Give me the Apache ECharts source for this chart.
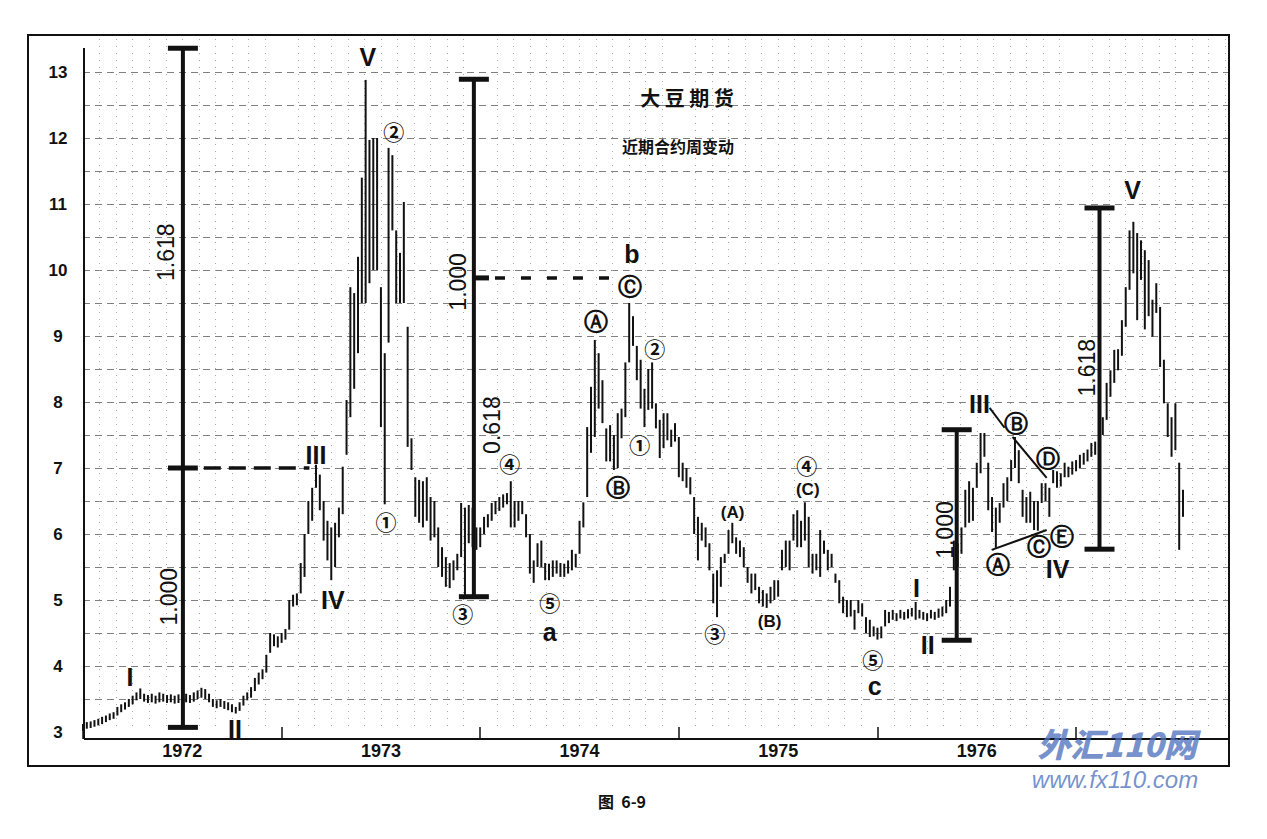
<!DOCTYPE html>
<html><head><meta charset="utf-8">
<script src="https://cdn.jsdelivr.net/npm/echarts@6/dist/echarts.min.js"></script>
<style>html,body{margin:0;padding:0;background:#fff}#c{width:1267px;height:839px}</style>
</head><body><div id="c"></div>
<script>
// ---------------- DATA ----------------
const startYear = 1972;
const weeksPerYear = 52;
const weekLow = [
3.02,3.05,3.06,3.08,3.10,3.12,3.15,3.18,3.20,3.25,
3.30,3.34,3.38,3.42,3.48,3.50,3.46,3.44,3.45,3.43,
3.45,3.46,3.44,3.45,3.43,3.44,3.42,3.45,3.44,3.46,
3.50,3.52,3.50,3.45,3.38,3.36,3.38,3.35,3.33,3.30,
3.28,3.32,3.40,3.48,3.52,3.62,3.72,3.80,3.90,4.20,
4.30,4.28,4.35,4.40,4.55,4.90,4.92,5.10,5.35,6.00,
6.20,6.70,6.36,5.90,5.60,5.30,5.50,5.95,6.30,7.20,
7.77,8.20,8.74,9.50,9.50,9.80,10.0,10.0,7.62,6.45,
8.90,10.6,9.50,9.50,9.50,7.32,6.97,6.26,6.17,6.10,
6.20,5.90,5.95,5.50,5.35,5.20,5.18,5.30,5.45,5.65,
5.05,5.86,5.80,5.76,5.80,6.00,6.10,6.20,6.30,6.35,
6.40,6.45,6.10,6.10,6.20,6.30,5.95,5.40,5.26,5.50,
5.50,5.30,5.30,5.35,5.40,5.35,5.35,5.40,5.45,5.50,
5.70,6.10,6.56,7.23,7.47,7.90,7.68,7.10,7.10,6.97,
7.00,7.45,7.77,8.60,8.85,8.33,7.90,7.62,7.88,7.90,
7.60,7.15,7.30,7.42,7.32,7.40,6.86,6.80,6.70,6.60,
6.00,5.60,5.90,5.80,5.45,4.95,4.74,5.20,5.56,5.70,
5.86,5.70,5.65,5.50,5.26,5.10,5.15,4.95,4.90,4.88,
4.95,5.00,5.05,5.45,5.50,5.45,5.90,5.80,5.80,5.90,
5.50,5.40,5.45,5.35,5.70,5.45,5.50,5.26,4.95,4.80,
4.74,4.75,4.55,4.80,4.75,4.50,4.44,4.45,4.40,4.42,
4.60,4.65,4.70,4.68,4.72,4.70,4.72,4.75,4.70,4.72,
4.70,4.68,4.72,4.70,4.73,4.75,4.80,4.90,5.45,5.50,
5.70,6.10,6.17,6.20,6.70,6.92,7.17,6.36,6.03,5.79,
6.17,6.40,6.50,6.80,7.00,6.77,6.26,6.17,6.17,6.06,
6.05,6.47,6.50,6.26,6.77,6.70,6.72,6.86,6.86,6.90,
6.95,7.00,7.05,7.10,7.17,7.20,7.42,7.50,7.73,8.08,
8.29,8.48,8.70,9.14,9.70,9.95,9.24,9.85,9.10,9.30,
8.99,9.35,8.53,7.98,7.47,7.17,7.27,5.76,6.26
];
const weekHigh = [
3.12,3.15,3.16,3.18,3.20,3.23,3.25,3.28,3.30,3.38,
3.42,3.45,3.50,3.55,3.60,3.66,3.58,3.56,3.58,3.55,
3.60,3.58,3.56,3.57,3.55,3.57,3.55,3.58,3.56,3.60,
3.63,3.67,3.65,3.58,3.50,3.48,3.50,3.47,3.45,3.42,
3.38,3.45,3.55,3.60,3.68,3.82,3.90,3.95,4.17,4.50,
4.48,4.45,4.50,4.56,5.00,5.08,5.10,5.56,6.00,6.50,
6.70,7.05,6.90,6.50,6.20,6.10,6.17,6.40,7.02,8.03,
9.74,9.65,10.2,11.4,12.88,11.97,12.0,12.0,9.74,8.74,
11.85,11.74,10.6,10.26,11.03,9.14,7.45,6.86,6.82,6.80,
6.86,6.56,6.50,6.10,5.80,5.65,5.56,5.60,5.70,6.47,
6.40,6.44,6.40,6.10,6.10,6.26,6.30,6.47,6.50,6.56,
6.60,6.62,6.80,6.50,6.50,6.50,6.30,6.00,5.60,5.86,
5.90,5.56,5.55,5.60,5.60,5.56,5.55,5.60,5.76,5.70,
6.20,6.48,7.62,8.23,8.94,8.74,8.33,7.60,7.65,7.50,
7.83,7.90,8.60,9.50,9.30,8.85,8.64,8.20,8.50,8.60,
7.98,7.73,7.83,7.83,7.58,7.68,7.47,7.08,7.00,6.86,
6.56,6.26,6.17,6.10,5.86,5.40,5.45,5.65,5.70,6.06,
6.17,5.95,5.90,5.80,5.50,5.40,5.40,5.20,5.15,5.10,
5.20,5.30,5.30,5.76,5.90,5.90,6.30,6.36,6.20,6.48,
6.26,5.70,5.70,6.06,5.90,5.76,5.70,5.40,5.30,5.05,
5.00,5.00,4.85,5.00,4.95,4.74,4.70,4.60,4.58,4.60,
4.85,4.82,4.85,4.80,4.85,4.82,4.86,4.88,4.97,4.85,
4.82,4.80,4.85,4.82,4.87,4.90,5.00,5.20,5.90,5.86,
6.10,6.67,6.80,6.70,7.08,7.53,7.53,7.08,6.56,6.40,
6.47,6.77,6.86,7.12,7.47,7.27,6.67,6.56,6.64,6.50,
6.50,6.77,6.77,6.70,6.97,6.95,6.92,7.08,7.02,7.10,
7.12,7.20,7.23,7.28,7.38,7.40,7.68,7.77,8.29,8.48,
8.79,8.80,9.24,9.74,10.6,10.73,10.56,10.45,10.30,10.15,
9.55,9.80,9.44,8.64,7.98,7.77,7.98,7.08,6.67
];
const yearLabels = ['1972','1973','1974','1975','1976'];
const priceTicks = [3,4,5,6,7,8,9,10,11,12,13];

// Elliott-wave labels
const waveText  = ['I','II','III','IV','V','①','②','③','④','⑤','a','Ⓐ','Ⓑ','Ⓒ','b','①','②','③','(A)','(B)','④','(C)','⑤','c','I','II','III','Ⓑ','Ⓓ','Ⓐ','Ⓒ','Ⓔ','IV','V'];
const waveYear  = [1972.237,1972.765,1973.173,1973.258,1973.434,1973.525,1973.565,1973.912,1974.149,1974.35,1974.35,1974.582,1974.693,1974.753,1974.763,1974.803,1974.879,1975.181,1975.271,1975.457,1975.644,1975.649,1975.976,1975.986,1976.197,1976.253,1976.514,1976.70,1976.857,1976.605,1976.811,1976.927,1976.907,1977.284];
const waveValue = [3.83,3.04,7.2,5.0,13.23,6.2,12.1,4.8,7.08,4.97,4.52,9.21,6.7,9.74,10.24,7.36,8.82,4.5,6.33,4.68,7.05,6.67,4.11,3.7,5.18,4.32,7.97,7.67,7.14,5.53,5.8,5.95,5.47,11.21];

// Fibonacci ratio labels
const ratioText  = ['1.618','1.000','1.000','0.618','1.000','1.618'];
const ratioYear  = [1972.418,1972.433,1973.887,1974.058,1976.338,1977.053];
const ratioValue = [10.27,5.05,9.82,7.65,6.06,8.52];

// Fibonacci measuring bars
const fibYear = [1972.503,1973.968,1976.399,1977.118];
const fibLow  = [3.07,5.05,4.39,5.77];
const fibHigh = [13.36,12.89,7.58,10.94];

// horizontal projection levels
const levelValue    = [7.0, 9.88];
const levelStart    = [1972.428, 1973.968];
const levelSolidEnd = [1972.578, 1974.044];
const levelEnd      = [1973.14, 1974.703];

// triangle trend lines (1976)
const trendYear1  = [1976.565,1976.68,1976.575];
const trendValue1 = [7.91,7.47,5.76];
const trendYear2  = [1976.64,1976.852,1976.852];
const trendValue2 = [7.61,6.85,6.06];

// ---------------- STYLE ----------------
const INK = '#111';
const levelDash = [[17,8],[10,16]];
function waveFont(t){
  if (/[①②③④⑤]/.test(t)) return {fontSize:21, fontFamily:'Noto Sans CJK SC', fontWeight:'bold'};
  if (/[ⒶⒷⒸⒹⒺ]/.test(t)) return {fontSize:24, fontFamily:'DejaVu Sans', fontWeight:'bold'};
  if (/^\(/.test(t)) return {fontSize:17, fontFamily:'Liberation Sans', fontWeight:'bold'};
  if (/^[abc]$/.test(t)) return {fontSize:25, fontFamily:'Liberation Sans', fontWeight:'bold'};
  return {fontSize:25, fontFamily:'Liberation Sans', fontWeight:'bold'};
}

const chart = echarts.init(document.getElementById('c'), null, {renderer:'svg'});

const barData = weekLow.map((lo,i)=>[startYear + i/weeksPerYear, lo, weekHigh[i]]);

function textSeries(texts, years, values, styleFn, rotation){
  return {
    type:'custom', xAxisIndex:0, yAxisIndex:0, clip:false, silent:true, z:10,
    data: years.map((y,i)=>[y, values[i]]),
    encode:{x:0,y:1},
    renderItem(params, api){
      const p = api.coord([api.value(0), api.value(1)]);
      const t = texts[params.dataIndex];
      return {type:'text', x:p[0], y:p[1], rotation: rotation || 0,
        style: Object.assign({text:t, fill:INK, align:'center', verticalAlign:'middle'}, styleFn(t))};
    }
  };
}

const option = {
  backgroundColor:'#fff',
  animation:false,
  grid:{left:83, right:38, top:39, bottom:107, containLabel:false},
  xAxis:[
    {type:'value', min:1972, max:1977.77, interval:1, position:'bottom', offset:7,
     axisLine:{show:false}, axisLabel:{show:false},
     axisTick:{show:true, inside:true, length:12, lineStyle:{color:INK, width:1.5}},
     splitLine:{show:false},
     minorTick:{show:false, splitNumber:12},
     minorSplitLine:{show:true, lineStyle:{color:'#a8a8a8', type:[1,6], width:1}}},
    {type:'value', min:1972, max:1977.77, interval:0.5, position:'bottom', offset:0,
     axisLine:{show:false}, axisTick:{show:false}, splitLine:{show:false},
     axisLabel:{show:true, margin:10, showMaxLabel:false, color:INK, fontSize:18, fontWeight:'bold', fontFamily:'Liberation Sans',
       formatter:function(v){ const k = Math.round((v - 1972.5)); return (Math.abs(v - 1972.5 - k) < 1e-6 && yearLabels[k]) ? yearLabels[k] : ''; }}}
  ],
  yAxis:{type:'value', min:3, max:13.5, interval:0.5,
    axisLine:{show:false}, axisTick:{show:false},
    axisLabel:{show:true, margin:25, align:'center', color:INK, fontSize:17, fontWeight:'bold', fontFamily:'Liberation Sans',
      formatter:function(v){ return priceTicks.indexOf(v) >= 0 ? String(v) : ''; }},
    splitLine:{show:true, showMinLine:false, showMaxLine:false, lineStyle:{color:'#555', type:[7,5], width:1, opacity:0.75}}},
  graphic:[
    {type:'rect', shape:{x:28,y:35,width:1201,height:731}, style:{fill:'none', stroke:INK, lineWidth:2}, z:100},
    {type:'line', shape:{x1:84,y1:48,x2:84,y2:739}, style:{stroke:INK, lineWidth:2}, z:100},
    {type:'line', shape:{x1:84,y1:739,x2:1229,y2:739}, style:{stroke:INK, lineWidth:2}, z:100},
    {type:'text', x:687, y:97, style:{text:'大 豆 期 货', fill:INK, fontSize:20, fontWeight:'bold', fontFamily:'Noto Sans CJK SC', align:'center', verticalAlign:'middle'}, z:100},
    {type:'text', x:678, y:146, style:{text:'近期合约周变动', fill:INK, fontSize:16, fontWeight:'bold', fontFamily:'Noto Sans CJK SC', align:'center', verticalAlign:'middle'}, z:100},
    {type:'text', x:622, y:801, style:{text:'图  6-9', fill:INK, fontSize:16, fontWeight:'bold', fontFamily:'Noto Sans CJK SC', align:'center', verticalAlign:'middle'}, z:100},
    {type:'text', x:1117, y:743, style:{text:'外汇110网', fill:'rgba(80,115,190,0.78)', fontSize:33, fontWeight:'900', fontStyle:'italic', fontFamily:'Noto Sans CJK SC', align:'center', verticalAlign:'middle'}, z:101},
    {type:'text', x:1115, y:779, style:{text:'www.fx110.com', fill:'rgba(80,115,190,0.78)', fontSize:24, fontStyle:'italic', fontFamily:'Liberation Sans', align:'center', verticalAlign:'middle'}, z:101}
  ],
  series:[
    { // weekly high-low bars
      type:'custom', name:'大豆', xAxisIndex:0, yAxisIndex:0, z:5, silent:true,
      data: barData, encode:{x:0, y:[1,2]},
      renderItem(params, api){
        const x = api.value(0);
        const a = api.coord([x, api.value(2)]);
        const b = api.coord([x, api.value(1)]);
        return {type:'line', shape:{x1:a[0], y1:a[1], x2:b[0], y2:b[1]}, style:{stroke:INK, lineWidth:2}};
      }
    },
    { // fibonacci measuring bars
      type:'custom', xAxisIndex:0, yAxisIndex:0, z:6, silent:true, clip:false,
      data: fibYear.map((y,i)=>[y, fibLow[i], fibHigh[i]]), encode:{x:0, y:[1,2]},
      renderItem(params, api){
        const x = api.value(0);
        const t = api.coord([x, api.value(2)]);
        const b = api.coord([x, api.value(1)]);
        const cap = 15, st = {stroke:INK, lineWidth:4};
        return {type:'group', children:[
          {type:'line', shape:{x1:t[0], y1:t[1], x2:b[0], y2:b[1]}, style:st},
          {type:'line', shape:{x1:t[0]-cap, y1:t[1], x2:t[0]+cap, y2:t[1]}, style:{stroke:INK, lineWidth:5}},
          {type:'line', shape:{x1:b[0]-cap, y1:b[1], x2:b[0]+cap, y2:b[1]}, style:{stroke:INK, lineWidth:5}}
        ]};
      }
    },
    { // projection levels
      type:'custom', xAxisIndex:0, yAxisIndex:0, z:6, silent:true, clip:false,
      data: levelValue.map((v,i)=>[levelStart[i], v, levelSolidEnd[i], levelEnd[i]]), encode:{x:[0,2,3], y:1},
      renderItem(params, api){
        const v = api.value(1);
        const s = api.coord([api.value(0), v]);
        const m = api.coord([api.value(2), v]);
        const e = api.coord([api.value(3), v]);
        return {type:'group', children:[
          {type:'line', shape:{x1:s[0], y1:s[1], x2:m[0], y2:m[1]}, style:{stroke:INK, lineWidth:5}},
          {type:'line', shape:{x1:m[0]+6, y1:m[1], x2:e[0], y2:e[1]}, style:{stroke:INK, lineWidth:3.5, lineDash:levelDash[params.dataIndex]}}
        ]};
      }
    },
    { // triangle lines
      type:'custom', xAxisIndex:0, yAxisIndex:0, z:6, silent:true,
      data: trendYear1.map((y,i)=>[y, trendValue1[i], trendYear2[i], trendValue2[i]]), encode:{x:[0,2], y:[1,3]},
      renderItem(params, api){
        const a = api.coord([api.value(0), api.value(1)]);
        const b = api.coord([api.value(2), api.value(3)]);
        return {type:'line', shape:{x1:a[0], y1:a[1], x2:b[0], y2:b[1]}, style:{stroke:INK, lineWidth:2}};
      }
    },
    textSeries(waveText, waveYear, waveValue, waveFont, 0),
    textSeries(ratioText, ratioYear, ratioValue, function(){ return {fontSize:23, fontFamily:'Liberation Sans', fontWeight:'normal'}; }, Math.PI/2)
  ]
};
chart.setOption(option);
</script>
</body></html>
